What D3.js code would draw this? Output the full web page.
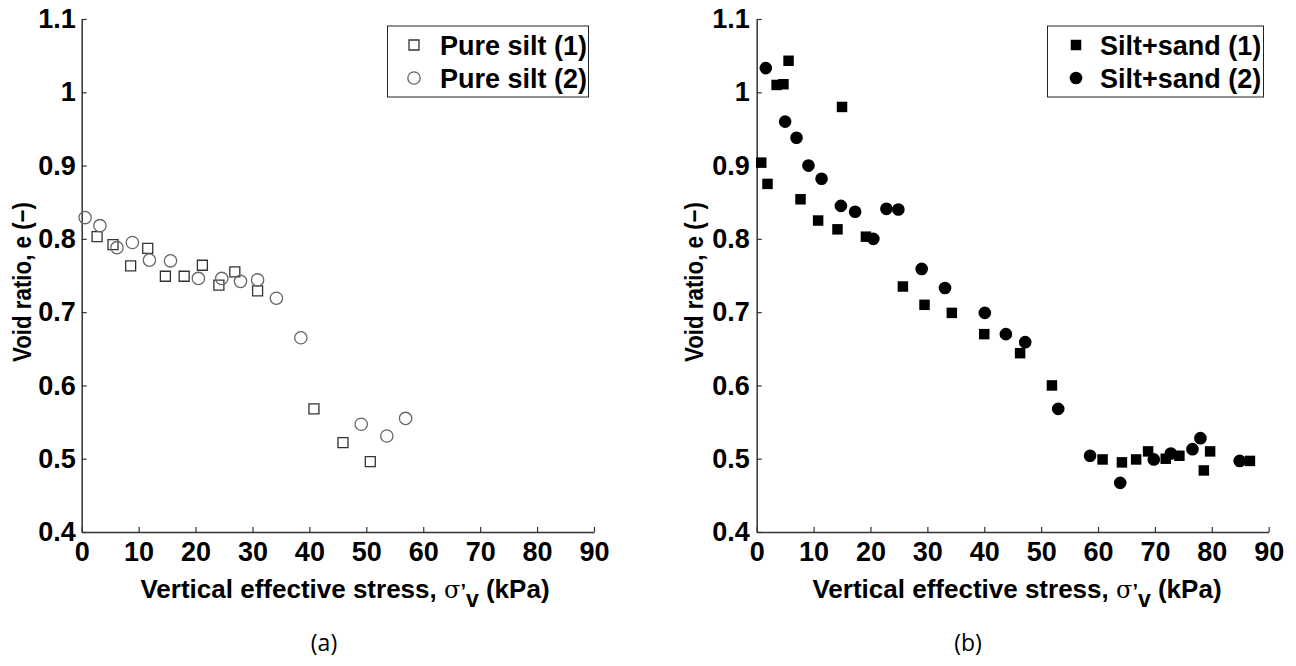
<!DOCTYPE html>
<html>
<head>
<meta charset="utf-8">
<script src="https://cdn.jsdelivr.net/npm/d3@7"></script>
<style>
  body { margin: 0; background: #fff; }
  svg { display: block; }
  text { font-family: "Liberation Sans", Arial, sans-serif; fill: #000; }
</style>
</head>
<body>
<div id="chart"></div>
<script>
// tick values (shared by both panels)
var stressTicks = [0, 10, 20, 30, 40, 50, 60, 70, 80, 90];
var voidTicks = [0.4, 0.5, 0.6, 0.7, 0.8, 0.9, 1, 1.1];

// (a) pure silt, [stress kPa, void ratio]
var pureSilt1 = [
  [2.7, 0.803], [5.5, 0.792], [8.6, 0.763], [11.6, 0.787], [14.7, 0.749],
  [18.0, 0.749], [21.2, 0.764], [24.1, 0.737], [26.9, 0.755], [30.9, 0.729],
  [40.8, 0.568], [45.9, 0.522], [50.7, 0.496]
];
var pureSilt2 = [
  [0.6, 0.829], [3.2, 0.818], [6.2, 0.788], [8.9, 0.795], [11.9, 0.771],
  [15.6, 0.770], [20.5, 0.746], [24.6, 0.746], [27.9, 0.742], [30.9, 0.744],
  [34.2, 0.719], [38.5, 0.665], [49.1, 0.547], [53.6, 0.531], [56.9, 0.555]
];

// (b) silt + sand
var siltSand1 = [
  [0.8, 0.904], [1.9, 0.875], [3.5, 1.010], [4.7, 1.011], [5.6, 1.043],
  [15.0, 0.980], [7.7, 0.854], [10.8, 0.825], [14.2, 0.813], [19.2, 0.803],
  [25.7, 0.735], [29.5, 0.710], [34.3, 0.699], [40.0, 0.670], [46.3, 0.644],
  [51.9, 0.600], [60.8, 0.499], [64.2, 0.495], [66.7, 0.499], [68.8, 0.510],
  [71.9, 0.500], [74.3, 0.504], [78.6, 0.484], [79.7, 0.510], [86.7, 0.497]
];
var siltSand2 = [
  [1.6, 1.033], [5.0, 0.960], [7.0, 0.938], [9.1, 0.900], [11.4, 0.882],
  [14.8, 0.845], [17.3, 0.837], [20.5, 0.800], [22.8, 0.841], [24.9, 0.840],
  [29.0, 0.759], [33.1, 0.733], [40.1, 0.699], [43.8, 0.670], [47.2, 0.659],
  [53.0, 0.568], [58.6, 0.504], [63.9, 0.467], [69.8, 0.499], [72.8, 0.507],
  [76.6, 0.513], [78.0, 0.528], [84.9, 0.497]
];

var W = 1296, H = 666;
var svg = d3.select('#chart').append('svg')
    .attr('width', W)
    .attr('height', H);

var axisColor = '#333';

function panel(opts) {
    var x = d3.scaleLinear().domain([0, 90]).range([opts.left, opts.right]);
    var y = d3.scaleLinear().domain([0.4, 1.1]).range([532, 19]);

    var g = svg.append('g');

    // x axis, ticks pointing inward
    var ax = g.append('g')
        .attr('transform', 'translate(0,' + y(0.4) + ')')
        .call(d3.axisBottom(x).tickValues(stressTicks).tickSize(-5).tickPadding(10).tickSizeOuter(0));
    ax.selectAll('text').attr('dy', '0.71em');

    var ay = g.append('g')
        .attr('transform', 'translate(' + x(0) + ',0)')
        .call(d3.axisLeft(y).tickValues(voidTicks).tickSize(-5).tickPadding(opts.labelPad).tickSizeOuter(0)
              .tickFormat(function(d) { return d === 1 ? '1' : d3.format('.1f')(d); }));

    g.selectAll('.domain').attr('stroke', axisColor).attr('stroke-width', 1.5);
    g.selectAll('.tick line').attr('stroke', axisColor).attr('stroke-width', 1.2);
    g.selectAll('.tick text')
        .style('font-family', '"Liberation Sans", Arial, sans-serif')
        .style('font-weight', 'bold')
        .style('font-size', '27px')
        .attr('fill', '#000');

    // axis titles
    var xt = g.append('text')
        .attr('x', opts.xTitleX)
        .attr('y', 598)
        .attr('text-anchor', 'middle')
        .style('font-weight', 'bold')
        .style('font-size', '26px');
    xt.append('tspan').text('Vertical effective stress, ');
    xt.append('tspan').text('\u03c3').style('font-family', '"DejaVu Serif", serif')
        .style('font-weight', 'normal').style('font-size', '24px');
    xt.append('tspan').text('\u2019').style('font-size', '20px');
    xt.append('tspan').text('v').attr('dy', 9).style('font-size', '23px');
    xt.append('tspan').text(' (kPa)').attr('dy', -9);

    g.append('text')
        .attr('transform', 'translate(' + opts.yTitleX + ',' + 282 + ') rotate(-90)')
        .attr('text-anchor', 'middle')
        .style('font-weight', 'bold')
        .style('font-size', '25px')
        .attr('textLength', 160)
        .attr('lengthAdjust', 'spacingAndGlyphs')
        .text('Void ratio, e (\u2212)');

    // caption
    g.append('text')
        .attr('x', opts.captionX)
        .attr('y', 651)
        .attr('text-anchor', 'middle')
        .style('font-family', '"Open Sans", "Noto Sans", sans-serif')
        .style('font-weight', 'normal')
        .style('font-size', '23px')
        .text(opts.caption);

    // points
    opts.series.forEach(function(s) {
        var sym = d3.symbol().type(s.shape === 'square' ? d3.symbolSquare : d3.symbolCircle).size(s.size);
        g.append('g').selectAll('path')
            .data(s.data)
            .enter().append('path')
            .attr('transform', function(d) { return 'translate(' + x(d[0]) + ',' + y(d[1]) + ')'; })
            .attr('d', sym)
            .attr('fill', s.fill)
            .attr('stroke', s.stroke)
            .attr('stroke-width', s.strokeWidth);
    });

    // legend
    var lg = g.append('g');
    lg.append('rect')
        .attr('x', opts.legend.x).attr('y', 26)
        .attr('width', opts.legend.w).attr('height', 71)
        .attr('fill', '#fff')
        .attr('stroke', '#222')
        .attr('stroke-width', 1);
    opts.series.forEach(function(s, i) {
        var cy = 45 + i * 33;
        var sym = d3.symbol().type(s.shape === 'square' ? d3.symbolSquare : d3.symbolCircle).size(s.size);
        lg.append('path')
            .attr('transform', 'translate(' + opts.legend.mx + ',' + cy + ')')
            .attr('d', sym)
            .attr('fill', s.fill)
            .attr('stroke', s.stroke)
            .attr('stroke-width', s.strokeWidth);
        lg.append('text')
            .attr('x', opts.legend.tx)
            .attr('y', cy)
            .attr('dy', '0.36em')
            .style('font-weight', 'bold')
            .style('font-size', '27px')
            .text(s.name);
    });
}

panel({
    left: 81.7, right: 594,
    labelPad: 6,
    xTitleX: 345, yTitleX: 31, captionX: 324, caption: '(a)',
    legend: { x: 387.5, w: 201, mx: 414, tx: 440 },
    series: [
        { name: 'Pure silt (1)', data: pureSilt1, shape: 'square', size: 100, fill: 'none', stroke: '#333', strokeWidth: 1.3 },
        { name: 'Pure silt (2)', data: pureSilt2, shape: 'circle', size: Math.PI * 38, fill: 'none', stroke: '#666', strokeWidth: 1.3 }
    ]
});

panel({
    left: 756.7, right: 1268.7,
    labelPad: 7,
    xTitleX: 1017, yTitleX: 703, captionX: 968, caption: '(b)',
    legend: { x: 1047.5, w: 216, mx: 1076, tx: 1100 },
    series: [
        { name: 'Silt+sand (1)', data: siltSand1, shape: 'square', size: 110, fill: '#000', stroke: 'none', strokeWidth: 0 },
        { name: 'Silt+sand (2)', data: siltSand2, shape: 'circle', size: Math.PI * 40, fill: '#000', stroke: 'none', strokeWidth: 0 }
    ]
});
</script>
</body>
</html>
